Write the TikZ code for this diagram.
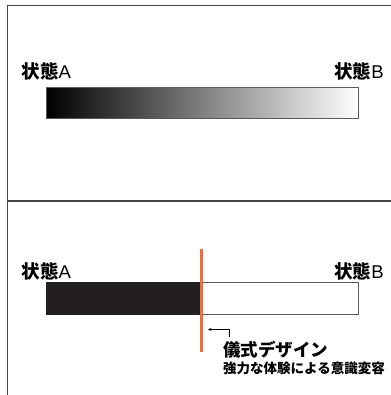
\documentclass[tikz,border=0pt]{standalone}
\usepackage{fontspec}
\setmainfont{Liberation Sans}
\newfontfamily\jp{Noto Sans CJK JP}
\usetikzlibrary{arrows.meta}
\definecolor{frameg}{HTML}{454545}
\definecolor{barg}{HTML}{5A5A5A}
\definecolor{darkbar}{HTML}{231F20}
\definecolor{orangeln}{HTML}{F26B3A}
\tikzset{
  framel/.style={draw=frameg, line width=1.6pt},
  statelbl/.style={inner sep=0pt, font=\fontsize{18.5}{18.5}\selectfont},
  barbox/.style={draw=barg, line width=1pt, inner sep=0pt, minimum height=31.5pt},
}
\newcommand{\jb}[1]{{\jp\bfseries #1}}
\begin{document}
\begin{tikzpicture}[x=1pt,y=-1pt]
\useasboundingbox (0,0) rectangle (390,395);
% frame
\coordinate (ftr) at (391,5.5);
\coordinate (ftl) at (7.5,5.5);
\coordinate (fbl) at (7.5,396);
\coordinate (dl) at (7.5,201);
\coordinate (dr) at (391,201);
\draw[framel] (ftr) -- (ftl) -- (fbl);
\draw[framel] (dl) -- (dr);
% top panel
\node[statelbl, anchor=base west] (a1) at (21.5,78.5) {\jb{状態}A};
\node[statelbl, anchor=base east] (b1) at (384,78.5) {\jb{状態}B};
\node[barbox, minimum width=312pt, left color=black, right color=white] (bar1) at (202,103.25) {};
% bottom panel
\node[statelbl, anchor=base west] (a2) at (21.5,278.5) {\jb{状態}A};
\node[statelbl, anchor=base east] (b2) at (384,278.5) {\jb{状態}B};
\node[barbox, minimum width=312pt, fill=white] (bar2) at (202,298.5) {};
\node[inner sep=0pt, minimum width=155pt, minimum height=31.5pt, fill=darkbar, draw=darkbar, line width=1pt] (dark2) at (123.5,298.5) {};
\coordinate (otop) at (201.5,249);
\coordinate (obot) at (201.5,352);
\draw[orangeln, line width=3pt] (otop) -- (obot);
\coordinate (arS) at (229,337);
\coordinate (arC) at (229,329.5);
\coordinate (arE) at (208,329.5);
\draw[line width=0.8pt, -{Stealth[length=3.5pt,width=3pt]}] (arS) -- (arC) -- (arE);
\node[inner sep=0pt, anchor=base west, font=\fontsize{17.5}{17.5}\selectfont] (rit) at (223,356.5) {\jb{儀式デザイン}};
\node[inner sep=0pt, anchor=base west, font=\fontsize{13.5}{13.5}\selectfont] (sub) at (223,373.5) {\jb{強力な体験による意識変容}};
\end{tikzpicture}
\end{document}
